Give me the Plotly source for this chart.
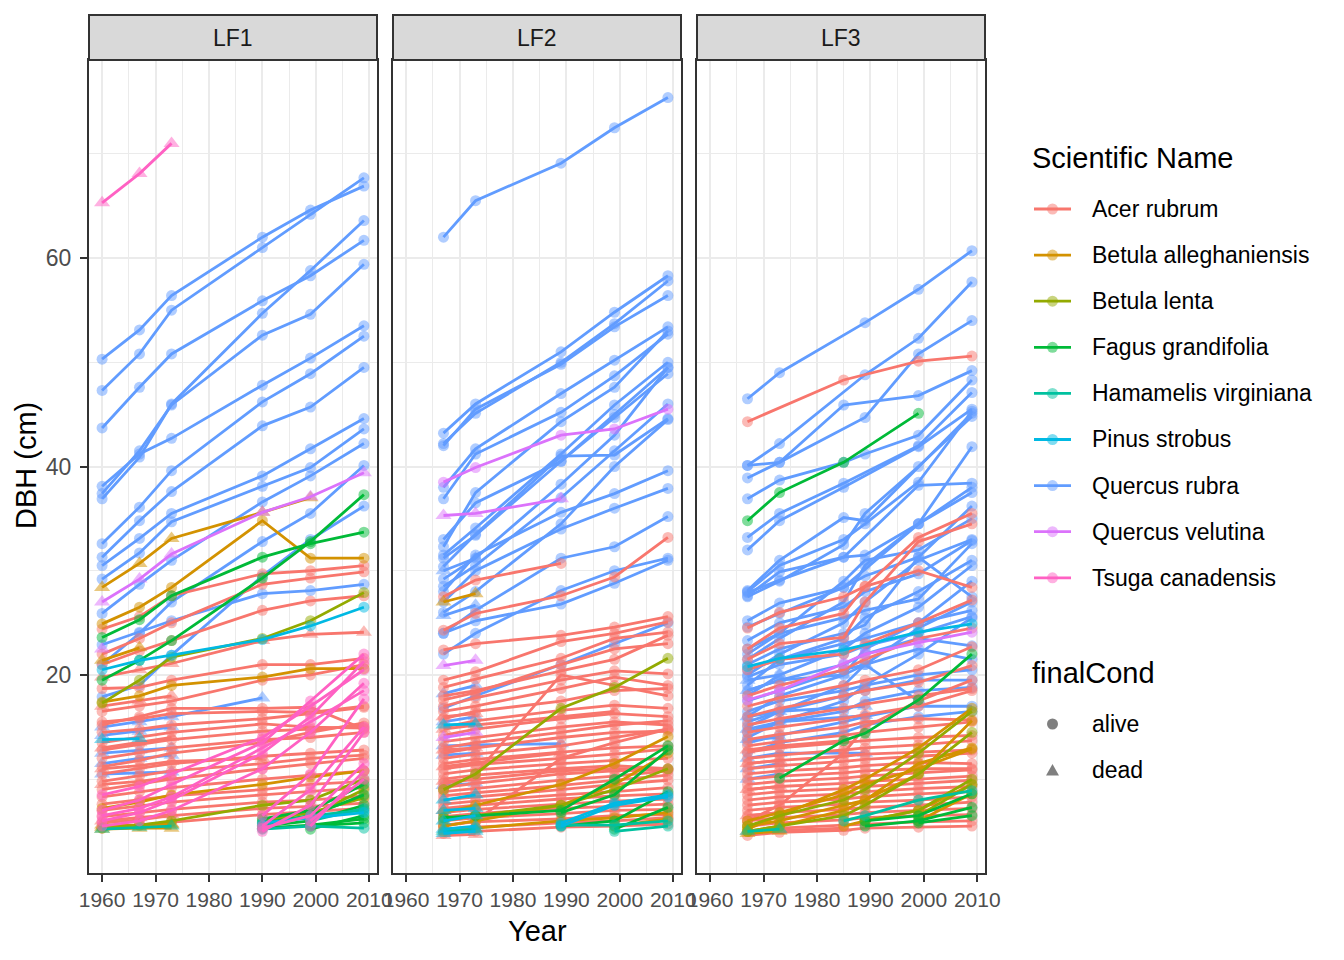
import plotly.graph_objects as go

N = None

SPECIES = {
    "AR": "Acer rubrum",
    "BA": "Betula alleghaniensis",
    "BL": "Betula lenta",
    "FG": "Fagus grandifolia",
    "HV": "Hamamelis virginiana",
    "PS": "Pinus strobus",
    "QR": "Quercus rubra",
    "QV": "Quercus velutina",
    "TC": "Tsuga canadensis",
}
SPECIES_COLORS = {
    "AR": "#F8766D", "BA": "#D39200", "BL": "#93AA00", "FG": "#00BA38",
    "HV": "#00C19F", "PS": "#00B9E3", "QR": "#619CFF", "QV": "#DB72FB",
    "TC": "#FF61C3",
}
PANELS = ["LF1", "LF2", "LF3"]
X_TICKS = [1960, 1970, 1980, 1990, 2000, 2010]
Y_TICKS = [20, 40, 60]

# LF1 survey years and trees: (species, final condition, DBH per survey)
LF1_YEARS = [1960, 1967, 1973, 1990, 1999, 2009]
LF1_TREES = [
    ("QR", "alive", [50.3, 53.1, 56.4, 62.0, 64.6, 66.9]),
    ("QR", "alive", [47.3, 50.8, 55.0, 61.0, 64.2, 67.7]),
    ("QR", "alive", [43.7, 47.6, 50.8, 55.9, 58.3, 61.7]),
    ("QR", "alive", [37.4, 41.5, 45.9, 52.6, 54.6, 59.4]),
    ("QR", "alive", [36.9, 40.9, 46.0, 54.7, 58.8, 63.6]),
    ("QR", "alive", [38.1, 41.2, 42.7, 47.8, 50.4, 53.5]),
    ("QR", "alive", [32.6, 36.1, 39.6, 46.2, 48.9, 52.5]),
    ("QR", "alive", [31.3, 34.8, 37.6, 43.9, 45.7, 49.5]),
    ("QR", "alive", [30.5, 33.1, 35.5, 39.1, 41.7, 44.6]),
    ("QR", "alive", [29.2, 31.7, 34.7, 38.1, 39.9, 43.6]),
    ("QR", "alive", [25.9, 28.7, 31.0, 36.6, 39.1, 42.2]),
    ("QR", "alive", [21.0, 24.0, 27.0, 32.8, 35.5, 40.1]),
    ("QR", "alive", [22.9, 24.1, 25.2, 27.8, 28.1, 28.7]),
    ("QR", "alive", [17.9, 19.0, 21.9, 29.5, 33.0, 36.2]),
    ("QR", "dead", [15.0, 15.5, 16.0, 17.8, N, N]),
    ("QR", "dead", [14.2, 14.6, 15.0, N, N, N]),
    ("QR", "dead", [12.5, 12.8, 13.0, N, N, N]),
    ("QR", "dead", [11.5, 12.0, 12.3, N, N, N]),
    ("QR", "dead", [10.5, 10.6, 10.7, N, N, N]),
    ("AR", "alive", [24.4, 25.6, 27.6, 29.7, 30.0, 30.5]),
    ("AR", "alive", [22.0, 23.5, 25.0, 28.7, 29.3, 29.9]),
    ("AR", "alive", [21.0, 22.3, 23.3, 26.2, 27.1, 27.6]),
    ("AR", "dead", [19.8, 20.5, 21.1, 23.3, 23.9, 24.1]),
    ("AR", "alive", [18.7, 18.8, 19.5, 21.0, 21.0, 21.6]),
    ("AR", "alive", [16.5, 17.0, 17.5, 19.5, 20.0, 21.0]),
    ("AR", "alive", [15.5, 15.8, 16.3, 16.5, 16.4, 17.0]),
    ("AR", "alive", [15.2, 16.0, 16.8, 16.8, 16.9, 14.8]),
    ("AR", "alive", [14.5, 14.8, 15.2, 15.8, 16.3, 16.9]),
    ("AR", "alive", [13.5, 14.0, 14.5, 15.3, 15.0, 14.9]),
    ("AR", "alive", [12.8, 13.3, 13.8, 14.6, 14.8, 15.1]),
    ("AR", "alive", [12.0, 12.5, 13.0, 13.8, 14.0, 14.5]),
    ("AR", "alive", [11.2, 11.8, 12.5, 13.5, 14.5, 15.4]),
    ("AR", "alive", [10.5, 11.0, 11.5, 12.2, 12.5, 12.8]),
    ("AR", "alive", [9.8, 10.3, 10.8, 11.5, 12.0, 12.3]),
    ("AR", "alive", [9.0, 9.5, 10.0, 11.0, 11.5, 12.0]),
    ("AR", "alive", [8.3, 8.8, 9.2, 10.0, 10.4, 10.8]),
    ("AR", "alive", [7.6, 8.0, 8.4, 9.0, 9.5, 9.8]),
    ("AR", "alive", [7.0, 7.4, 7.8, 8.5, 8.8, 9.2]),
    ("AR", "alive", [6.4, 6.8, 7.1, 7.8, 8.0, 8.4]),
    ("AR", "alive", [5.8, 6.1, 6.5, 7.2, 7.4, 7.7]),
    ("AR", "alive", [5.3, 5.6, 5.9, 6.6, 6.9, 7.2]),
    ("AR", "dead", [17.0, 17.5, 18.0, N, N, N]),
    ("AR", "dead", [13.0, 13.5, 14.0, N, N, N]),
    ("AR", "dead", [11.0, 11.3, 11.7, 12.0, N, N]),
    ("AR", "dead", [9.5, 9.8, 10.2, N, N, N]),
    ("AR", "dead", [6.0, 6.3, 6.6, N, N, N]),
    ("BA", "dead", [28.4, 30.7, 33.1, 35.6, 37.0, N]),
    ("BA", "alive", [24.9, 26.5, 28.4, 34.8, 31.2, 31.2]),
    ("BA", "alive", [17.4, 18.0, 19.0, 19.8, 20.6, 20.6]),
    ("BA", "dead", [21.4, 22.6, N, N, N, N]),
    ("BA", "alive", [7.2, 7.8, 8.5, 9.5, 10.2, 10.8]),
    ("BA", "dead", [5.2, 5.3, 5.3, N, N, N]),
    ("BA", "dead", [5.4, 5.5, 5.6, N, N, N]),
    ("BA", "dead", [5.6, 5.6, 5.7, N, N, N]),
    ("BL", "alive", [17.3, 19.5, 21.7, 23.5, 25.2, 27.9]),
    ("BL", "alive", [5.3, 5.6, 6.0, 7.5, 8.0, 10.0]),
    ("BL", "alive", [N, N, N, N, 6.5, 9.0]),
    ("BL", "alive", [N, N, N, 6.0, 6.8, 8.2]),
    ("FG", "alive", [23.6, 25.3, 27.6, 31.3, 32.6, 33.7]),
    ("FG", "alive", [19.5, 21.4, 23.3, 29.3, 32.8, 37.3]),
    ("FG", "alive", [N, N, N, 5.5, 6.0, 7.5]),
    ("FG", "alive", [N, N, N, 5.8, 6.5, 8.5]),
    ("FG", "alive", [N, N, N, 6.2, 7.0, 9.5]),
    ("FG", "alive", [N, N, N, N, 5.2, 6.5]),
    ("FG", "alive", [N, N, N, N, 5.5, 5.8]),
    ("FG", "alive", [N, N, N, 5.3, 5.6, 6.2]),
    ("HV", "dead", [5.2, 5.4, 5.5, N, N, N]),
    ("HV", "alive", [N, N, N, 5.6, 6.5, 7.0]),
    ("HV", "alive", [N, N, N, 5.2, 5.5, 5.3]),
    ("HV", "alive", [N, N, N, N, 6.0, 7.2]),
    ("PS", "alive", [20.5, 21.4, 21.9, 23.4, 24.7, 26.5]),
    ("PS", "dead", [13.8, 13.9, N, N, N, N]),
    ("PS", "alive", [N, N, N, 5.8, 6.3, 6.8]),
    ("QV", "dead", [27.0, 29.2, 31.6, 35.6, 37.1, 39.4]),
    ("QV", "dead", [22.5, N, N, N, N, N]),
    ("TC", "dead", [65.3, 68.1, 71.0, N, N, N]),
    ("TC", "alive", [7.0, 8.0, 9.5, 13.5, 17.5, 22.0]),
    ("TC", "alive", [6.0, 6.8, 8.0, 12.5, 16.0, 21.3]),
    ("TC", "alive", [5.5, 6.0, 7.0, 11.0, 14.5, 19.2]),
    ("TC", "alive", [8.5, 9.3, 10.5, 14.0, 17.0, 20.5]),
    ("TC", "alive", [6.5, 7.2, 8.3, 13.0, 15.5, 18.5]),
    ("TC", "alive", [N, N, N, 6.5, 10.5, 17.7]),
    ("TC", "alive", [N, N, N, 5.5, 9.0, 15.0]),
    ("TC", "alive", [N, N, N, 5.0, 7.5, 14.5]),
    ("TC", "alive", [N, N, N, 5.3, 6.5, 11.5]),
    ("TC", "alive", [N, N, N, N, 5.5, 10.8]),
    ("TC", "alive", [N, N, N, N, 6.0, 10.0]),
]

LF2_YEARS = [1967, 1973, 1989, 1999, 2009]
LF2_TREES = [
    ("QR", "alive", [62.0, 65.5, 69.1, 72.5, 75.4]),
    ("QR", "alive", [43.2, 46.0, 51.0, 54.8, 58.3]),
    ("QR", "alive", [42.2, 45.1, 50.0, 53.7, 57.8]),
    ("QR", "alive", [42.0, 45.5, 49.8, 53.4, 56.4]),
    ("QR", "alive", [38.0, 41.7, 47.0, 50.2, 53.4]),
    ("QR", "alive", [36.9, 41.2, 45.2, 48.7, 52.7]),
    ("QR", "alive", [32.3, 37.5, 44.3, 47.6, 53.0]),
    ("QR", "alive", [33.0, 36.5, 40.5, 45.0, 49.5]),
    ("QR", "alive", [31.5, 34.1, 41.2, 45.9, 50.0]),
    ("QR", "alive", [31.2, 33.4, 40.5, 44.7, 48.9]),
    ("QR", "alive", [30.4, 33.5, 41.0, 41.1, 44.6]),
    ("QR", "alive", [29.2, 31.2, 38.3, 43.0, 49.5]),
    ("QR", "alive", [28.5, 30.5, 37.0, 41.5, 46.0]),
    ("QR", "alive", [26.0, 28.0, 34.5, 40.0, 44.5]),
    ("QR", "alive", [28.0, 31.5, 35.6, 37.4, 39.6]),
    ("QR", "alive", [27.0, 30.0, 34.0, 36.0, 37.9]),
    ("QR", "alive", [24.0, 26.2, 31.2, 32.3, 35.2]),
    ("QR", "alive", [22.0, 24.0, 28.1, 30.0, 31.2]),
    ("QR", "alive", [24.0, 25.2, 26.8, 28.8, 31.0]),
    ("QR", "alive", [16.8, 18.0, 21.0, 23.0, 25.0]),
    ("QR", "dead", [25.7, 26.7, N, N, N]),
    ("QR", "dead", [30.0, 31.2, N, N, N]),
    ("QR", "dead", [18.2, 19.0, N, N, N]),
    ("QR", "dead", [15.5, 16.0, N, N, N]),
    ("QR", "dead", [13.2, 13.3, 13.4, N, N]),
    ("QR", "dead", [12.3, 12.5, N, N, N]),
    ("QR", "dead", [9.4, 9.6, N, N, N]),
    ("AR", "alive", [24.3, 25.9, 27.6, 29.4, 33.2]),
    ("AR", "alive", [27.5, 29.1, 30.7, N, N]),
    ("AR", "alive", [22.4, 23.0, 23.8, 24.6, 25.6]),
    ("AR", "alive", [19.5, 20.3, 23.2, 24.0, 25.1]),
    ("AR", "alive", [18.8, 19.6, 21.6, 23.5, 24.1]),
    ("AR", "alive", [18.0, 18.5, 20.4, 21.5, 23.8]),
    ("AR", "alive", [17.6, 18.3, 21.0, 22.5, 23.0]),
    ("AR", "alive", [17.0, 17.8, 19.5, 20.4, 20.1]),
    ("AR", "alive", [16.5, 17.0, 18.7, 19.8, 19.0]),
    ("AR", "alive", [15.8, 16.5, 17.5, 18.5, 18.7]),
    ("AR", "alive", [15.0, 15.6, 16.6, 17.1, 16.8]),
    ("AR", "alive", [9.0, 10.5, 20.0, 19.0, 18.0]),
    ("AR", "alive", [14.2, 14.8, 15.8, 16.3, 16.0]),
    ("AR", "alive", [13.6, 14.0, 15.0, 15.5, 15.2]),
    ("AR", "alive", [13.0, 13.5, 14.5, 15.2, 15.6]),
    ("AR", "alive", [12.5, 13.0, 14.0, 14.5, 14.6]),
    ("AR", "alive", [12.0, 12.4, 13.2, 14.0, 14.8]),
    ("AR", "alive", [11.5, 11.9, 12.6, 13.0, 13.2]),
    ("AR", "alive", [11.0, 11.4, 12.0, 12.4, 12.9]),
    ("AR", "alive", [10.5, 10.9, 11.5, 11.8, 12.0]),
    ("AR", "alive", [10.0, 10.4, 11.0, 11.3, 11.0]),
    ("AR", "alive", [9.6, 10.0, 10.8, 11.0, 11.0]),
    ("AR", "alive", [9.2, 9.6, 10.5, 10.8, 10.9]),
    ("AR", "alive", [8.8, 9.1, 9.9, 10.3, 10.8]),
    ("AR", "alive", [8.4, 8.7, 9.4, 9.9, 10.4]),
    ("AR", "alive", [8.0, 8.3, 9.0, 9.5, 9.9]),
    ("AR", "alive", [7.6, 7.9, 8.5, 8.8, 9.2]),
    ("AR", "alive", [7.2, 7.5, 8.1, 8.4, 8.6]),
    ("AR", "alive", [6.8, 7.1, 7.6, 7.9, 8.1]),
    ("AR", "alive", [6.4, 6.7, 7.2, 7.4, 7.6]),
    ("AR", "alive", [6.0, 6.3, 6.7, 7.0, 7.1]),
    ("AR", "alive", [5.6, 5.9, 6.2, 6.5, 6.6]),
    ("AR", "alive", [5.2, 5.4, 5.8, 6.0, 6.3]),
    ("AR", "alive", [4.8, 5.0, 5.4, 5.5, 5.7]),
    ("AR", "alive", [5.5, 6.0, 12.0, 13.5, 14.8]),
    ("AR", "dead", [16.0, 16.3, N, N, N]),
    ("AR", "dead", [12.8, 13.0, N, N, N]),
    ("AR", "dead", [9.8, 10.0, N, N, N]),
    ("AR", "dead", [7.0, 7.3, N, N, N]),
    ("AR", "dead", [4.6, 4.7, N, N, N]),
    ("AR", "dead", [11.2, 11.6, 12.5, N, N]),
    ("AR", "dead", [14.8, 15.2, 16.0, 16.5, N]),
    ("BA", "dead", [27.0, 27.8, N, N, N]),
    ("BA", "alive", [6.8, 7.5, 9.5, 11.5, 14.1]),
    ("BA", "alive", [5.5, 6.0, 7.5, 9.5, 12.5]),
    ("BA", "alive", [5.0, 5.3, 6.0, 6.3, 6.8]),
    ("BA", "alive", [N, N, N, 5.5, 6.2]),
    ("BL", "alive", [9.0, 10.5, 16.8, 18.8, 21.6]),
    ("BL", "alive", [6.0, 6.5, 7.5, 9.0, 11.0]),
    ("FG", "alive", [N, N, 6.8, 8.5, 12.8]),
    ("FG", "alive", [N, N, 5.5, 6.0, 8.8]),
    ("FG", "alive", [N, N, N, 5.2, 7.3]),
    ("FG", "alive", [6.3, 6.5, 7.0, 10.0, 13.2]),
    ("HV", "alive", [N, N, 5.6, 5.6, 6.0]),
    ("HV", "dead", [5.0, 5.2, N, N, N]),
    ("HV", "alive", [N, N, N, 5.0, 5.5]),
    ("PS", "dead", [15.2, 15.3, N, N, N]),
    ("PS", "alive", [N, N, 5.8, 7.7, 8.5]),
    ("PS", "alive", [N, N, 5.5, 7.5, 8.3]),
    ("PS", "dead", [8.0, 8.5, N, N, N]),
    ("PS", "dead", [7.0, 7.2, N, N, N]),
    ("PS", "dead", [6.0, 6.5, N, N, N]),
    ("PS", "dead", [5.2, 5.5, N, N, N]),
    ("PS", "dead", [4.8, 5.0, N, N, N]),
    ("QV", "alive", [38.5, 39.9, 43.0, 43.6, 45.5]),
    ("QV", "dead", [35.3, 35.5, 36.9, N, N]),
    ("QV", "dead", [20.9, 21.4, N, N, N]),
    ("QV", "dead", [14.0, 14.5, N, N, N]),
]

LF3_YEARS = [1967, 1973, 1985, 1989, 1999, 2009]
LF3_TREES = [
    ("QR", "alive", [46.5, 49.0, N, 53.8, 57.0, 60.7]),
    ("QR", "alive", [40.1, 42.2, N, 48.8, 52.3, 57.7]),
    ("QR", "alive", [40.1, 40.4, N, 44.7, 50.8, 54.0]),
    ("QR", "alive", [38.9, 40.4, 45.9, N, 46.8, 49.2]),
    ("QR", "alive", [36.9, 38.7, 40.4, 41.2, 43.0, 48.3]),
    ("QR", "alive", [33.2, 35.5, 38.4, N, 42.0, 47.1]),
    ("QR", "alive", [32.0, 34.8, 38.0, N, 41.9, 45.5]),
    ("QR", "alive", [28.1, 31.0, 35.1, 34.8, N, 45.1]),
    ("QR", "alive", [28.0, 30.5, 33.0, 34.5, 38.5, 45.3]),
    ("QR", "alive", [27.5, 29.0, 32.5, 35.5, 40.0, 44.8]),
    ("QR", "alive", [27.6, 29.9, 31.3, 31.5, 34.5, 41.9]),
    ("QR", "alive", [27.9, 29.1, 31.3, N, 38.2, 38.4]),
    ("QR", "alive", [25.2, 26.9, 28.4, N, 34.5, 37.5]),
    ("QR", "alive", [24.6, 25.9, 28.4, 29.5, 31.3, 36.2]),
    ("QR", "alive", [22.5, 24.0, 29.0, 31.0, 32.0, 35.0]),
    ("QR", "alive", [21.5, 23.5, 27.0, 30.5, 34.5, 38.0]),
    ("QR", "alive", [23.3, 25.0, 26.5, 28.0, 29.7, 32.9]),
    ("QR", "alive", [22.0, 24.0, 25.5, 26.2, 27.3, 32.6]),
    ("QR", "alive", [20.0, 22.0, 25.0, 27.0, 31.0, 33.0]),
    ("QR", "alive", [21.0, 22.5, 24.0, 24.8, 31.3, 27.5]),
    ("QR", "alive", [19.0, 21.5, 23.5, 25.5, 28.0, 31.0]),
    ("QR", "alive", [20.5, 21.5, 23.0, 23.5, 25.0, 26.2]),
    ("QR", "alive", [18.0, 20.0, 22.5, 24.0, 26.5, 30.5]),
    ("QR", "alive", [19.8, 21.0, 22.0, 22.8, 24.0, 25.6]),
    ("QR", "alive", [16.0, 18.0, 20.0, 22.5, 25.0, 29.0]),
    ("QR", "alive", [18.5, 19.5, 21.0, 22.0, 23.5, 22.8]),
    ("QR", "alive", [15.0, 16.5, 19.0, 21.0, 24.5, 27.0]),
    ("QR", "alive", [17.5, 18.5, 20.5, 21.0, 22.5, 21.5]),
    ("QR", "alive", [14.0, 15.5, 17.5, 19.0, 22.0, 25.5]),
    ("QR", "alive", [16.5, 17.5, 18.5, 19.0, 20.0, 20.5]),
    ("QR", "alive", [15.5, 16.5, 18.0, 18.5, 19.5, 19.5]),
    ("QR", "alive", [14.5, 15.5, 16.5, 17.5, 18.5, 18.8]),
    ("QR", "alive", [13.5, 14.2, 15.5, 16.0, 17.0, 17.0]),
    ("QR", "alive", [12.5, 13.5, 14.5, 15.2, 16.0, 16.5]),
    ("QR", "dead", [18.5, 19.5, 20.0, 21.0, 17.5, N]),
    ("QR", "dead", [16.0, 16.5, N, 17.0, N, N]),
    ("QR", "dead", [19.5, 20.0, N, N, N, N]),
    ("QR", "dead", [14.8, 15.5, N, 16.1, N, N]),
    ("QR", "dead", [12.0, 12.5, N, 12.5, N, N]),
    ("QR", "dead", [13.8, 14.0, N, N, N, N]),
    ("QR", "dead", [11.0, 11.5, N, N, N, N]),
    ("QR", "dead", [10.0, 10.5, N, N, N, N]),
    ("AR", "alive", [44.3, N, 48.3, N, 50.1, 50.6]),
    ("AR", "alive", [22.5, 24.5, 25.9, 28.5, 33.2, 35.5]),
    ("AR", "alive", [21.5, 23.0, 23.6, 27.0, 32.8, 34.5]),
    ("AR", "alive", [24.5, 26.0, 27.5, 28.5, 30.0, 28.4]),
    ("AR", "alive", [20.5, 21.5, 22.0, 23.0, 25.0, 27.2]),
    ("AR", "alive", [18.0, 19.0, 20.5, 21.5, 23.5, 24.5]),
    ("AR", "alive", [17.0, 17.8, 19.0, 19.5, 20.5, 22.7]),
    ("AR", "alive", [16.0, 16.8, 18.0, 18.5, 19.3, 20.9]),
    ("AR", "alive", [15.2, 15.8, 16.8, 17.2, 18.0, 18.7]),
    ("AR", "alive", [14.5, 15.0, 15.8, 16.2, 17.0, 18.5]),
    ("AR", "alive", [13.8, 14.3, 15.0, 15.5, 15.8, 15.7]),
    ("AR", "alive", [13.2, 13.6, 14.2, 14.5, 15.0, 15.5]),
    ("AR", "alive", [12.6, 13.0, 13.5, 13.7, 14.0, 14.2]),
    ("AR", "alive", [12.0, 12.3, 12.8, 13.0, 13.3, 13.7]),
    ("AR", "alive", [11.5, 11.8, 12.2, 12.4, 12.6, 12.8]),
    ("AR", "alive", [11.0, 11.3, 11.7, 11.9, 12.2, 12.5]),
    ("AR", "alive", [10.5, 10.8, 11.1, 11.3, 11.6, 11.5]),
    ("AR", "alive", [10.0, 10.3, 10.6, 10.8, 11.0, 11.0]),
    ("AR", "alive", [9.5, 9.8, 10.1, 10.3, 10.6, 10.9]),
    ("AR", "alive", [9.0, 9.3, 9.6, 9.8, 10.0, 10.3]),
    ("AR", "alive", [8.5, 8.8, 9.1, 9.3, 9.6, 9.9]),
    ("AR", "alive", [8.0, 8.3, 8.6, 8.8, 9.1, 9.3]),
    ("AR", "alive", [7.5, 7.8, 8.1, 8.3, 8.6, 8.8]),
    ("AR", "alive", [7.0, 7.3, 7.6, 7.8, 8.0, 8.3]),
    ("AR", "alive", [6.5, 6.8, 7.1, 7.3, 7.5, 7.8]),
    ("AR", "alive", [6.0, 6.3, 6.6, 6.8, 7.0, 7.2]),
    ("AR", "alive", [5.5, 5.8, 6.1, 6.3, 6.5, 6.6]),
    ("AR", "alive", [5.0, 5.3, 5.6, 5.7, 5.9, 6.0]),
    ("AR", "alive", [4.6, 4.9, 5.1, 5.3, 5.4, 5.5]),
    ("AR", "alive", [6.0, 7.5, 12.5, 15.0, 17.5, 19.5]),
    ("AR", "dead", [12.8, 13.2, 13.7, N, N, N]),
    ("AR", "dead", [11.5, 11.8, N, N, N, N]),
    ("AR", "dead", [9.0, 9.3, N, N, N, N]),
    ("AR", "dead", [6.5, 6.8, N, N, N, N]),
    ("AR", "dead", [5.0, 5.1, 5.3, N, N, N]),
    ("BA", "alive", [5.2, 6.5, 9.0, 10.0, 13.0, 16.8]),
    ("BA", "alive", [5.5, 6.0, 7.5, 8.0, 10.5, 15.6]),
    ("BA", "alive", [6.0, 6.8, 8.5, 9.5, 11.0, 12.9]),
    ("BA", "alive", [5.0, 5.5, 7.0, 8.0, 11.5, 13.0]),
    ("BA", "alive", [N, N, 5.5, 6.0, 7.0, 9.5]),
    ("BA", "alive", [N, N, N, N, 6.0, 8.6]),
    ("BA", "dead", [4.8, 5.0, N, N, N, N]),
    ("BL", "alive", [5.5, 6.5, 8.0, 9.0, 12.5, 16.5]),
    ("BL", "alive", [5.0, 5.5, 6.5, 7.5, 10.5, 14.5]),
    ("BL", "alive", [N, N, N, N, 6.5, 9.5]),
    ("BL", "alive", [N, N, N, 6.0, 7.0, 10.0]),
    ("FG", "alive", [34.8, 37.5, 40.4, N, 45.1, N]),
    ("FG", "alive", [N, 10.1, 13.7, 14.4, 17.6, 22.0]),
    ("FG", "alive", [N, N, N, 6.0, 6.5, 8.6]),
    ("FG", "alive", [N, N, N, 5.5, 6.0, 7.3]),
    ("FG", "alive", [N, N, N, N, 5.8, 6.5]),
    ("HV", "alive", [N, N, 6.0, 6.5, 8.0, 8.9]),
    ("HV", "dead", [5.0, 5.2, N, N, N, N]),
    ("PS", "alive", [20.8, 21.6, 22.4, N, 24.1, 24.9]),
    ("QV", "alive", [17.6, 18.5, 21.1, 22.0, 23.1, 24.1]),
]

TREES = {"LF1": (LF1_YEARS, LF1_TREES), "LF2": (LF2_YEARS, LF2_TREES), "LF3": (LF3_YEARS, LF3_TREES)}

W, H = 1344, 960
PANEL_PX = [(89, 377), (393, 681), (697, 985)]
PANEL_TOP, PANEL_BOTTOM = 60, 873
FONT = "Liberation Sans, Arial, Helvetica, sans-serif"


def px(x):
    return x / W


def py(y):
    return 1 - y / H


fig = go.Figure()

for i, panel in enumerate(PANELS):
    years, trees = TREES[panel]
    suffix = "" if i == 0 else str(i + 1)
    for code, cond, dbh in trees:
        xs = [yr for yr, v in zip(years, dbh) if v is not None]
        ys = [v for v in dbh if v is not None]
        fig.add_trace(go.Scatter(
            x=xs, y=ys,
            mode="lines+markers",
            line=dict(color=SPECIES_COLORS[code], width=2.8),
            marker=dict(
                color=SPECIES_COLORS[code],
                opacity=0.5,
                size=11 if cond == "alive" else 14,
                symbol="circle" if cond == "alive" else "triangle-up",
                line=dict(width=0),
            ),
            xaxis="x" + suffix, yaxis="y" + suffix,
            showlegend=False, hoverinfo="skip",
        ))

axis_common = dict(
    showline=True, mirror=True, linecolor="#333333", linewidth=2,
    ticks="outside", ticklen=7, tickwidth=2, tickcolor="#333333",
    tickfont=dict(family=FONT, size=21, color="#4D4D4D"),
    gridcolor="#EBEBEB", gridwidth=2.2, zeroline=False,
    automargin=False,
)

layout = dict(
    template="none",
    width=W, height=H, autosize=False,
    margin=dict(l=0, r=0, t=0, b=0, pad=0),
    paper_bgcolor="white", plot_bgcolor="white",
    font=dict(family=FONT),
    showlegend=False,
)

for i in range(3):
    suffix = "" if i == 0 else str(i + 1)
    x0, x1 = PANEL_PX[i]
    layout["xaxis" + suffix] = dict(
        axis_common,
        domain=[px(x0), px(x1)],
        anchor="y" + suffix,
        range=[1957.55, 2011.45],
        tickmode="array", tickvals=X_TICKS,
        tickangle=0,
        ticklabelstandoff=0,
        minor=dict(tickmode="array", tickvals=[1965, 1975, 1985, 1995, 2005],
                   showgrid=True, gridcolor="#EBEBEB", gridwidth=1.2, ticks=""),
    )
    layout["yaxis" + suffix] = dict(
        axis_common,
        domain=[py(PANEL_BOTTOM), py(PANEL_TOP)],
        anchor="x" + suffix,
        range=[1.0, 79.0],
        tickmode="array", tickvals=Y_TICKS,
        ticklabelstandoff=4,
        showticklabels=(i == 0),
        ticks="outside" if i == 0 else "",
        minor=dict(tickmode="array", tickvals=[10, 30, 50, 70],
                   showgrid=True, gridcolor="#EBEBEB", gridwidth=1.2, ticks=""),
    )
    if i == 0:
        layout["yaxis"]["tickfont"] = dict(family=FONT, size=23, color="#4D4D4D")

shapes = []
annotations = []

# facet strips
for i, panel in enumerate(PANELS):
    x0, x1 = PANEL_PX[i]
    shapes.append(dict(type="rect", xref="paper", yref="paper",
                       x0=px(x0), x1=px(x1), y0=py(60), y1=py(15),
                       fillcolor="#D9D9D9", line=dict(color="#333333", width=2)))
    annotations.append(dict(text=panel, xref="paper", yref="paper",
                            x=px((x0 + x1) / 2), y=py(38), showarrow=False,
                            xanchor="center", yanchor="middle",
                            font=dict(family=FONT, size=23, color="#1A1A1A")))

# axis titles
annotations.append(dict(text="Year", xref="paper", yref="paper", x=px(537), y=py(931),
                        showarrow=False, xanchor="center", yanchor="middle",
                        font=dict(family=FONT, size=29, color="black")))
annotations.append(dict(text="DBH (cm)", xref="paper", yref="paper", x=px(26), y=py(466),
                        showarrow=False, xanchor="center", yanchor="middle", textangle=-90,
                        font=dict(family=FONT, size=29, color="black")))

# legend: species
annotations.append(dict(text="Scientific Name", xref="paper", yref="paper", x=px(1030), y=py(158),
                        showarrow=False, xanchor="left", yanchor="middle",
                        font=dict(family=FONT, size=29, color="black")))
for k, code in enumerate(SPECIES):
    yk = 209 + k * 46.1
    col = SPECIES_COLORS[code]
    shapes.append(dict(type="line", xref="paper", yref="paper",
                       x0=px(1034), x1=px(1071), y0=py(yk), y1=py(yk),
                       line=dict(color=col, width=2.8)))
    shapes.append(dict(type="circle", xref="paper", yref="paper",
                       x0=px(1047), x1=px(1058), y0=py(yk + 5.5), y1=py(yk - 5.5),
                       fillcolor=col, opacity=0.5, line=dict(width=0)))
    annotations.append(dict(text=SPECIES[code], xref="paper", yref="paper", x=px(1090), y=py(yk),
                            showarrow=False, xanchor="left", yanchor="middle",
                            font=dict(family=FONT, size=23, color="black")))

# legend: final condition
annotations.append(dict(text="finalCond", xref="paper", yref="paper", x=px(1030), y=py(673),
                        showarrow=False, xanchor="left", yanchor="middle",
                        font=dict(family=FONT, size=29, color="black")))
shapes.append(dict(type="circle", xref="paper", yref="paper",
                   x0=px(1047), x1=px(1058), y0=py(729.5), y1=py(718.5),
                   fillcolor="black", opacity=0.5, line=dict(width=0)))
shapes.append(dict(type="path", xref="paper", yref="paper",
                   path=f"M {px(1046)},{py(775.5)} L {px(1059)},{py(775.5)} L {px(1052.5)},{py(764)} Z",
                   fillcolor="black", opacity=0.5, line=dict(width=0)))
for label, yk in [("alive", 724), ("dead", 770)]:
    annotations.append(dict(text=label, xref="paper", yref="paper", x=px(1090), y=py(yk),
                            showarrow=False, xanchor="left", yanchor="middle",
                            font=dict(family=FONT, size=23, color="black")))

layout["shapes"] = shapes
layout["annotations"] = annotations
fig.update_layout(**layout)

fig.write_html(
    "out.html",
    config={"responsive": False, "displayModeBar": False},
    post_script="document.body.style.margin='0px';",
)
